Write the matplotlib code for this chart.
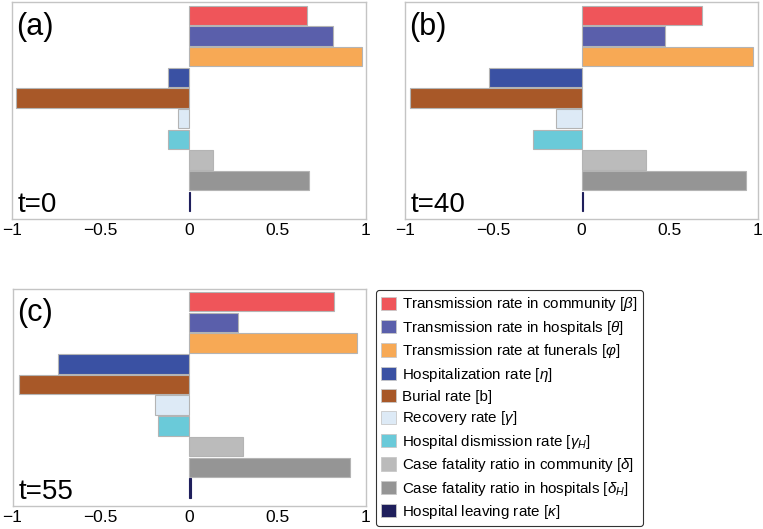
import matplotlib
matplotlib.use("Agg")
import matplotlib.pyplot as plt
from matplotlib.patches import Patch

plt.rcParams["font.family"] = ["Liberation Sans", "DejaVu Sans"]
plt.rcParams["mathtext.fontset"] = "custom"
plt.rcParams["mathtext.rm"] = "Liberation Sans"
plt.rcParams["mathtext.it"] = "Liberation Sans:italic"

# ── data ──────────────────────────────────────
labels = [
    r"Transmission rate in community [$\beta$]",
    r"Transmission rate in hospitals [$\theta$]",
    r"Transmission rate at funerals [$\varphi$]",
    r"Hospitalization rate [$\eta$]",
    "Burial rate [b]",
    r"Recovery rate [$\gamma$]",
    r"Hospital dismission rate [$\gamma_H$]",
    r"Case fatality ratio in community [$\delta$]",
    r"Case fatality ratio in hospitals [$\delta_H$]",
    r"Hospital leaving rate [$\kappa$]",
]
colors = ["#EF555A", "#5A5FAB", "#F7A955", "#3A51A3", "#A85828",
          "#DDEAF6", "#6ACAD9", "#BBBBBB", "#959595", "#1F1F5C"]

vals_t0 = [0.665, 0.815, 0.975, -0.117, -0.975, -0.064, -0.117, 0.134, 0.68, 0.008]
vals_t40 = [0.68, 0.475, 0.972, -0.522, -0.97, -0.147, -0.277, 0.364, 0.932, 0.01]
vals_t55 = [0.823, 0.28, 0.952, -0.742, -0.961, -0.193, -0.175, 0.304, 0.911, 0.01]

panels = [
    ("(a)", "t=0", vals_t0, (12, 2, 354, 217)),
    ("(b)", "t=40", vals_t40, (405, 2, 353, 217)),
    ("(c)", "t=55", vals_t55, (12.5, 288.5, 353, 217)),
]

W, H = 763, 529
fig = plt.figure(figsize=(W / 100, H / 100), dpi=100)

tick_pos = [-1, -0.5, 0, 0.5, 1]
tick_lab = ["\u22121", "\u22120.5", "0", "0.5", "1"]

# thin kappa bar keeps its own colour as outline
edges = ["#b4b4b4"] * (len(colors) - 1) + [colors[-1]]

for tag, tlabel, vals, (x0, y0, w, h) in panels:
    ax = fig.add_axes([x0 / W, 1 - (y0 + h) / H, w / W, h / H])
    ypos = list(range(len(vals)))
    ax.barh(ypos, vals, height=0.94, color=colors,
            edgecolor=edges, linewidth=0.8)
    ax.set_xlim(-1, 1)
    ax.set_ylim(9.85, -0.64)
    ax.set_yticks([])
    ax.set_xticks(tick_pos)
    ax.set_xticklabels(tick_lab, fontsize=12.5)
    ax.tick_params(axis="x", length=0, pad=3)
    for s in ax.spines.values():
        s.set_color("#c4c4c4")
        s.set_linewidth(1.0)
    ax.text(0.012, 0.885, tag, transform=ax.transAxes, fontsize=22,
            ha="left", va="center")
    ax.text(0.017, 0.03, tlabel, transform=ax.transAxes, fontsize=20,
            ha="left", va="baseline")

handles = [Patch(facecolor=c, edgecolor="#c8c8c8", linewidth=0.6) for c in colors]
leg = fig.legend(handles, labels, loc="upper left",
                 bbox_to_anchor=(376 / W, 1 - 290 / H),
                 fontsize=10.9, frameon=True, fancybox=True,
                 handlelength=0.95, handleheight=0.95, handletextpad=0.45,
                 labelspacing=0.36, borderpad=0.35, borderaxespad=0)
leg.get_frame().set_edgecolor("black")
leg.get_frame().set_linewidth(0.8)

fig.savefig("out.png", dpi=100)
